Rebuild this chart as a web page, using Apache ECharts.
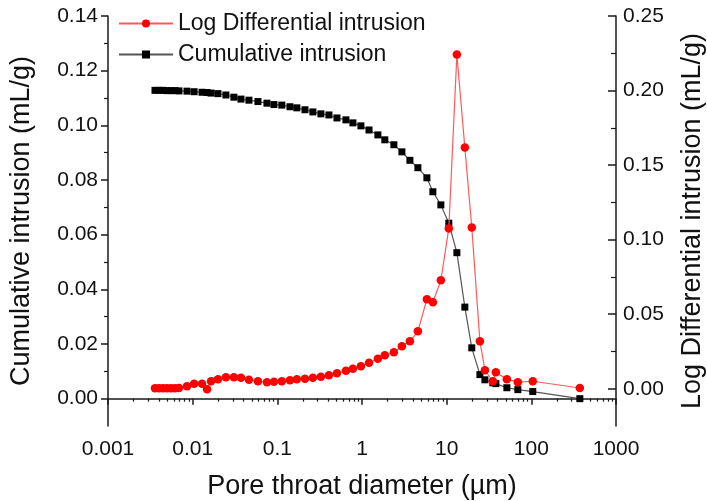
<!DOCTYPE html>
<html>
<head>
<meta charset="utf-8">
<script src="https://cdn.jsdelivr.net/npm/echarts@6/dist/echarts.min.js"></script>
<style>html,body{margin:0;padding:0;background:#fff;}#c{width:707px;height:501px;}</style>
</head>
<body>
<div id="c"></div>
<script>
// Pore throat diameter (µm)
var diameters = [0.00359,0.00400,0.00446,0.00497,0.00554,0.00618,0.00689,0.00857,0.0104,0.0129,0.0148,0.0165,0.0199,0.0247,0.0307,0.0372,0.0462,0.0590,0.0754,0.0912,0.113,0.141,0.170,0.212,0.263,0.327,0.407,0.506,0.646,0.781,0.971,1.21,1.54,1.86,2.38,2.96,3.68,4.57,5.84,6.87,8.54,10.6,13.2,16.4,19.8,24.7,28.3,35.1,38.1,51.4,69.3,104,374];
// Cumulative intrusion (mL/g)
var cumulative = [0.1128,0.1128,0.1128,0.1127,0.1127,0.1127,0.1126,0.1125,0.1123,0.1121,0.1120,0.1118,0.1116,0.1111,0.1103,0.1096,0.1092,0.1087,0.1081,0.1076,0.1074,0.1068,0.1064,0.1057,0.1049,0.1042,0.1038,0.1027,0.1020,0.1009,0.0998,0.0983,0.0965,0.0947,0.0929,0.0903,0.0872,0.0845,0.0808,0.0757,0.0709,0.0642,0.0534,0.0335,0.0186,0.0088,0.0069,0.0058,0.0055,0.0040,0.0033,0.0026,0.0000];
// Log Differential intrusion (mL/g)
var logDiff = [0.0004,0.0004,0.0004,0.0004,0.0004,0.0004,0.0005,0.0017,0.0034,0.0034,-0.0004,0.0050,0.0064,0.0077,0.0077,0.0074,0.0060,0.0050,0.0044,0.0047,0.0050,0.0057,0.0064,0.0067,0.0074,0.0080,0.0090,0.0104,0.0121,0.0134,0.0151,0.0174,0.0201,0.0224,0.0245,0.0285,0.0318,0.0385,0.0600,0.0580,0.0727,0.1075,0.2241,0.1618,0.1082,0.0318,0.0124,0.0050,0.0111,0.0064,0.0044,0.0050,0.0005];
// Tick values
var xMajorTicks = [0.001,0.01,0.1,1,10,100,1000];
var leftMajorTicks = [0,0.02,0.04,0.06,0.08,0.10,0.12,0.14];
var leftMinorTicks = [0.01,0.03,0.05,0.07,0.09,0.11,0.13];
var rightMajorTicks = [0,0.05,0.10,0.15,0.20,0.25];
var rightMinorTicks = [0.025,0.075,0.125,0.175,0.225];

var xMinorTicks = [];
for (var e = -3; e < 3; e++) { for (var k = 2; k <= 9; k++) { xMinorTicks.push(+(k * Math.pow(10, e)).toPrecision(3)); } }

var FONT = 'Liberation Sans, Arial, sans-serif';
var AX = '#1a1a1a';
function pairs(xs, ys) { return xs.map(function (x, i) { return [x, ys[i]]; }); }
function fmtDecade(v) { var e = Math.round(Math.log10(v)); return e < 0 ? Math.pow(10, e).toFixed(-e) : String(Math.round(Math.pow(10, e))); }

var chart = echarts.init(document.getElementById('c'), null, { renderer: 'canvas' });
chart.setOption({
  animation: false,
  backgroundColor: '#fff',
  textStyle: { fontFamily: FONT },
  grid: { left: 108, right: 91, top: 16, bottom: 75, containLabel: false, outerBoundsMode: 'none' },
  legend: {
    data: [{ name: 'Log Differential intrusion' }, { name: 'Cumulative intrusion' }],
    orient: 'vertical', left: 113, top: 7, itemWidth: 54, itemHeight: 10, itemGap: 8,
    textStyle: { fontSize: 23, color: '#111', fontFamily: FONT }
  },
  xAxis: [{
    type: 'log', logBase: 10, min: 0.001, max: 1000, position: 'bottom',
    axisLine: { show: true, lineStyle: { color: AX, width: 1.5 } },
    axisTick: { show: true, inside: false, length: 6, customValues: xMajorTicks, lineStyle: { color: AX, width: 1.5 } },
    axisLabel: { show: true, customValues: xMajorTicks, formatter: fmtDecade, fontSize: 21, color: '#111', margin: 13, fontFamily: FONT },
    splitLine: { show: false }, minorTick: { show: false },
    name: 'Pore throat diameter (µm)', nameLocation: 'middle', nameGap: 47,
    nameTextStyle: { fontSize: 27, color: '#111', fontFamily: FONT }
  }, {
    type: 'log', logBase: 10, min: 0.001, max: 1000, position: 'bottom',
    axisLine: { show: false },
    axisTick: { show: true, inside: false, length: 3, customValues: xMinorTicks, lineStyle: { color: AX, width: 1.2 } },
    axisLabel: { show: false }, splitLine: { show: false }
  }],
  yAxis: [{
    type: 'value', min: -0.01, max: 0.14, position: 'left',
    axisLine: { show: true, lineStyle: { color: AX, width: 1.5 } },
    axisTick: { show: true, inside: false, length: 7, customValues: leftMajorTicks, lineStyle: { color: AX, width: 1.5 } },
    axisLabel: { show: true, customValues: leftMajorTicks, formatter: function (v) { return v.toFixed(2); }, fontSize: 21, color: '#111', margin: 10, fontFamily: FONT },
    splitLine: { show: false },
    name: 'Cumulative intrusion (mL/g)', nameLocation: 'middle', nameGap: 73, nameRotate: 90,
    nameTextStyle: { fontSize: 27, color: '#111', fontFamily: FONT }
  }, {
    type: 'value', min: -0.01, max: 0.14, position: 'left',
    axisLine: { show: false },
    axisTick: { show: true, inside: false, length: 4, customValues: leftMinorTicks, lineStyle: { color: AX, width: 1.2 } },
    axisLabel: { show: false }, splitLine: { show: false }
  }, {
    type: 'value', min: -0.025, max: 0.25, position: 'right',
    axisLine: { show: true, lineStyle: { color: AX, width: 1.5 } },
    axisTick: { show: true, inside: true, length: 8, customValues: rightMajorTicks, lineStyle: { color: AX, width: 1.5 } },
    axisLabel: { show: true, customValues: rightMajorTicks, formatter: function (v) { return v.toFixed(2); }, fontSize: 21, color: '#111', margin: 7, fontFamily: FONT },
    splitLine: { show: false },
    name: 'Log Differential intrusion (mL/g)', nameLocation: 'middle', nameGap: 63, nameRotate: 90,
    nameTextStyle: { fontSize: 27, color: '#111', fontFamily: FONT }
  }, {
    type: 'value', min: -0.025, max: 0.25, position: 'right',
    axisLine: { show: false },
    axisTick: { show: true, inside: true, length: 5, customValues: rightMinorTicks, lineStyle: { color: AX, width: 1.2 } },
    axisLabel: { show: false }, splitLine: { show: false }
  }],
  series: [{
    name: 'Cumulative intrusion', type: 'line', xAxisIndex: 0, yAxisIndex: 0,
    data: pairs(diameters, cumulative),
    symbol: 'rect', symbolSize: 7, showSymbol: true, showAllSymbol: true,
    itemStyle: { color: '#000' }, lineStyle: { color: '#555', width: 1.2 }, z: 2
  }, {
    name: 'Log Differential intrusion', type: 'line', xAxisIndex: 0, yAxisIndex: 2,
    data: pairs(diameters, logDiff),
    symbol: 'circle', symbolSize: 8.5, showSymbol: true, showAllSymbol: true,
    itemStyle: { color: '#ff0000' }, lineStyle: { color: '#ff5a5a', width: 1.2 }, z: 3
  }]
});
</script>
</body>
</html>
